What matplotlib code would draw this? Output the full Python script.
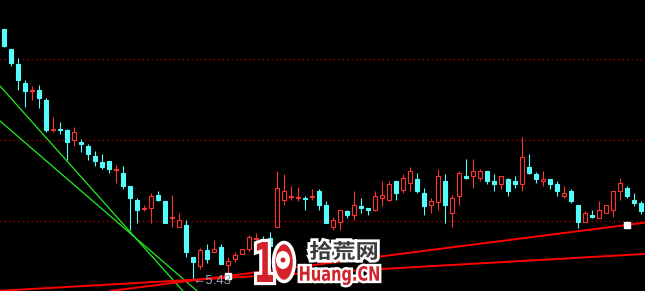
# candlestick chart with trend lines on black background
import matplotlib
matplotlib.use('Agg')
import matplotlib.pyplot as plt
import matplotlib.patheffects as pe
from matplotlib.patches import Rectangle, Ellipse, PathPatch
from matplotlib.textpath import TextPath
from matplotlib.font_manager import FontProperties
from matplotlib.transforms import Affine2D

# daily prices
opens = [7.94, 7.74, 7.59, 7.40, 7.32, 7.33, 7.23, 6.93, 6.94, 6.93,
         6.83, 6.81, 6.77, 6.67, 6.61, 6.62, 6.53, 6.50, 6.37, 6.23,
         6.14, 6.15, 6.28, 6.22, 6.05, 5.96, 5.98, 5.66, 5.57, 5.73,
         5.71, 5.76, 5.58, 5.64, 5.69, 5.74, 5.84, 5.84, 5.85, 5.96,
         6.23, 6.26, 6.25, 6.25, 6.26, 6.32, 6.18, 5.96, 6.01, 6.12,
         6.08, 6.17, 6.15, 6.13, 6.25, 6.23, 6.42, 6.33, 6.40, 6.44,
         6.30, 6.18, 6.21, 6.42, 6.10, 6.27, 6.47, 6.47, 6.45, 6.52,
         6.42, 6.39, 6.44, 6.42, 6.39, 6.56, 6.49, 6.42, 6.44, 6.39,
         6.27, 6.32, 6.18, 6.01, 6.08, 6.05, 6.10, 6.13, 6.32, 6.35,
         6.23, 6.20]
highs = [7.94, 7.74, 7.65, 7.43, 7.37, 7.38, 7.25, 7.06, 7.01, 6.94,
         6.96, 6.84, 6.79, 6.72, 6.69, 6.62, 6.58, 6.57, 6.37, 6.25,
         6.18, 6.30, 6.32, 6.22, 6.28, 6.10, 6.03, 5.66, 5.75, 5.79,
         5.83, 5.79, 5.66, 5.71, 5.74, 5.88, 5.90, 5.87, 5.91, 6.52,
         6.49, 6.37, 6.36, 6.27, 6.34, 6.34, 6.22, 6.06, 6.13, 6.13,
         6.32, 6.25, 6.15, 6.32, 6.42, 6.42, 6.42, 6.49, 6.56, 6.50,
         6.35, 6.25, 6.54, 6.49, 6.28, 6.52, 6.64, 6.64, 6.54, 6.52,
         6.49, 6.47, 6.45, 6.47, 6.86, 6.69, 6.51, 6.52, 6.44, 6.42,
         6.37, 6.34, 6.18, 6.12, 6.13, 6.22, 6.18, 6.32, 6.45, 6.37,
         6.30, 6.22]
lows = [7.76, 7.57, 7.33, 7.16, 7.23, 7.15, 6.91, 6.91, 6.89, 6.63,
        6.77, 6.71, 6.63, 6.57, 6.54, 6.50, 6.40, 6.34, 5.93, 6.00,
        6.12, 6.00, 6.22, 6.00, 5.96, 5.96, 5.66, 5.43, 5.54, 5.60,
        5.71, 5.59, 5.46, 5.61, 5.69, 5.72, 5.78, 5.73, 5.71, 5.96,
        6.18, 6.23, 6.22, 6.13, 6.23, 6.13, 6.00, 5.93, 5.93, 6.05,
        6.03, 6.10, 6.08, 6.12, 6.17, 6.22, 6.23, 6.30, 6.32, 6.30,
        6.08, 6.10, 6.13, 6.00, 5.96, 6.18, 6.44, 6.35, 6.42, 6.39,
        6.32, 6.34, 6.27, 6.35, 6.32, 6.49, 6.40, 6.37, 6.34, 6.27,
        6.25, 6.20, 5.95, 6.01, 6.05, 6.05, 6.10, 6.06, 6.23, 6.25,
        6.17, 6.09]
closes = [7.77, 7.60, 7.43, 7.32, 7.33, 7.25, 6.93, 6.94, 6.93, 6.81,
          6.91, 6.79, 6.69, 6.62, 6.56, 6.54, 6.54, 6.37, 6.25, 6.13,
          6.15, 6.27, 6.23, 6.00, 6.06, 6.03, 5.71, 5.61, 5.73, 5.64,
          5.74, 5.59, 5.62, 5.68, 5.74, 5.86, 5.85, 5.76, 5.77, 6.35,
          6.32, 6.27, 6.26, 6.24, 6.27, 6.18, 6.00, 6.03, 6.13, 6.08,
          6.18, 6.15, 6.13, 6.27, 6.28, 6.39, 6.30, 6.45, 6.52, 6.32,
          6.17, 6.22, 6.47, 6.18, 6.25, 6.50, 6.45, 6.52, 6.52, 6.42,
          6.39, 6.47, 6.32, 6.39, 6.66, 6.50, 6.44, 6.44, 6.39, 6.32,
          6.30, 6.22, 6.01, 6.10, 6.06, 6.13, 6.18, 6.32, 6.40, 6.27,
          6.20, 6.12]

# dotted price levels
grid_levels = [7.64, 6.83, 6.02]

# trend lines: (bar index, price) pairs
green_a = [(-0.5, 7.37), (25.5, 5.33)]
green_b = [(-0.5, 7.02), (27.5, 5.33)]
red_anchor_x = [32, 89]
red_anchor_y = [5.47, 5.98]
red_lower = [(56.5, 5.55), (91.5, 5.69)]

RED = '#ff3232'
CYAN = '#54fcfc'
W, H = 645, 291

fig = plt.figure(figsize=(W / 100, H / 100), dpi=100, facecolor='black')
ax = fig.add_axes([0, 0, 1, 1])
ax.set_facecolor('black')
ax.set_xlim(-0.5, 91.64)
ax.set_ylim(5.32, 8.23)
ax.axis('off')

for lvl in grid_levels:
    ax.axhline(lvl, color='#a00000', lw=1.0, ls=(0, (1, 2.2)), zorder=1)

# candles
bw = 4 / 7
for i in range(len(opens)):
    o, h, l, c = opens[i], highs[i], lows[i], closes[i]
    up = c >= o
    col = RED if up else CYAN
    ax.vlines(i, l, h, color=col, lw=0.8, zorder=2)
    ax.add_patch(Rectangle((i - bw / 2, min(o, c)), bw, abs(c - o),
                           facecolor='black' if up else col,
                           edgecolor=col, lw=0.8, zorder=3))

# trend lines
ax.axline(green_a[0], green_a[1], color='#22ee22', lw=0.9, zorder=4)
ax.axline(green_b[0], green_b[1], color='#22ee22', lw=0.9, zorder=4)
ax.axline((red_anchor_x[0], red_anchor_y[0]), (red_anchor_x[1], red_anchor_y[1]),
          color='#ff0000', lw=1.4, zorder=4)
ax.axline(red_lower[0], red_lower[1], color='#ff0000', lw=1.4, zorder=4)
ax.plot(red_anchor_x, red_anchor_y, 's', color='white', ms=4.3, mec='white', zorder=5)

# lowest price label
low_i = lows.index(min(lows))
ax.text(low_i, min(lows) - 0.01, f"\u2190{min(lows):.2f}", color='#9aa8c0',
        fontsize=9.5, family=['Liberation Sans', 'DejaVu Sans'],
        ha='left', va='center', zorder=6)


# watermark logo (pixel boxes, top-left origin)
def logo_text(s, box, color, stroke, family, halo='white'):
    x0, y0, x1, y1 = box
    tp = TextPath((0, 0), s, size=50, prop=FontProperties(family=family, weight='bold'))
    bb = tp.get_extents()
    tr = (Affine2D().translate(-bb.x0, -bb.y0)
          .scale((x1 - x0) / bb.width, (y1 - y0) / bb.height)
          .translate(x0, H - y1))
    p = PathPatch(tp, transform=tr, facecolor=color, edgecolor='none', zorder=10,
                  path_effects=[pe.Stroke(linewidth=stroke, foreground=halo), pe.Normal()])
    fig.add_artist(p)


logo_text("1", (257, 242, 273, 282), '#d3232a', 4.5, 'DejaVu Sans')
ring = Ellipse((284, H - 262), 21, 39, facecolor='#d3232a', edgecolor='white',
               lw=2.5, transform=None, zorder=10)
fig.add_artist(ring)
gear = Ellipse((283, H - 260), 14, 18, facecolor='white', edgecolor='none',
               transform=None, zorder=11)
fig.add_artist(gear)
hub = Ellipse((283, H - 260), 5, 5, facecolor='#d3232a', edgecolor='none',
              transform=None, zorder=12)
fig.add_artist(hub)
logo_text("拾荒网", (310, 241, 377, 260), '#3c3c3c', 4, 'Noto Sans CJK SC')
logo_text("Huang.CN", (300, 266, 379, 285), '#d3232a', 3.5, 'DejaVu Sans')

fig.savefig('out.png', dpi=100, facecolor='black')
